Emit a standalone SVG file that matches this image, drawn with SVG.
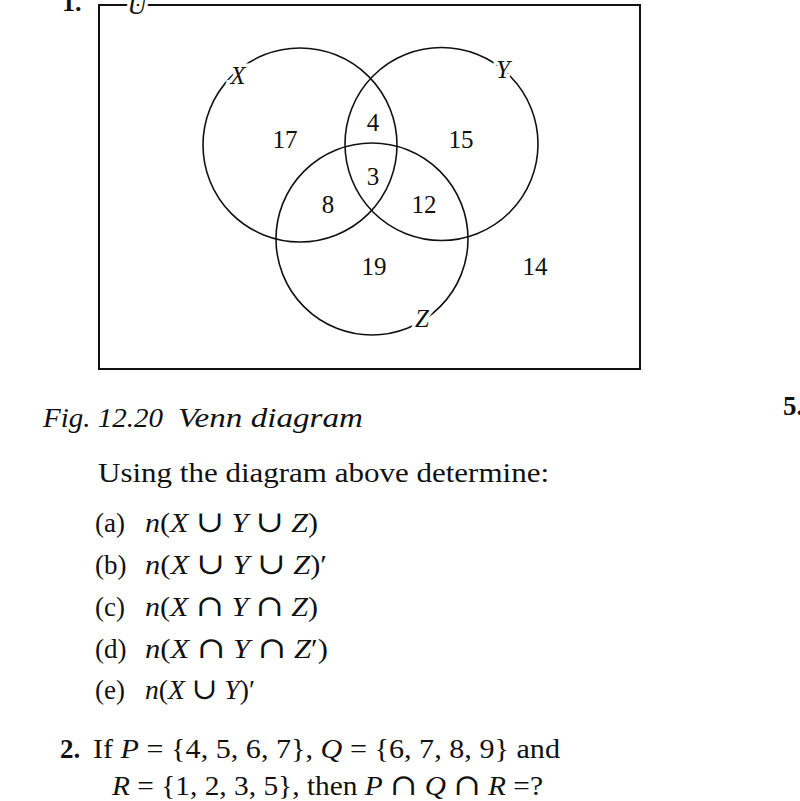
<svg xmlns="http://www.w3.org/2000/svg" width="800" height="801" viewBox="0 0 800 801">
<style>
text{font-family:"Liberation Serif","Times New Roman",serif;fill:#111}
.i{font-style:italic}
.b{font-weight:bold}
.s{font-family:"DejaVu Serif",serif;font-size:30px}
.num{font-size:25px;text-anchor:middle}
.lbl{font-size:25px;font-style:italic;text-anchor:middle;paint-order:stroke;stroke:#fff;stroke-width:7px}
.body{font-size:27px}
.c{fill:none;stroke:#111;stroke-width:1.6}
</style>
<rect width="800" height="801" fill="#fff"/>
<g id="universe">
<rect x="99" y="5" width="541" height="364" fill="none" stroke="#111" stroke-width="2"/>
<text x="137" y="14" class="lbl" style="font-size:26px">U</text>
</g>
<text x="62" y="11" class="b" style="font-size:26px">1.</text>
<g id="set-X"><circle cx="300" cy="145" r="97" class="c"/><text x="238" y="84" class="lbl">X</text></g>
<g id="set-Y"><circle cx="441.5" cy="144" r="96.5" class="c"/><text x="503" y="78" class="lbl">Y</text></g>
<g id="set-Z"><circle cx="372" cy="239" r="96" class="c"/><text x="422" y="327" class="lbl">Z</text></g>
<g id="regions">
<text x="285" y="148" class="num">17</text>
<text x="373" y="131" class="num">4</text>
<text x="461" y="148" class="num">15</text>
<text x="373" y="185" class="num">3</text>
<text x="328" y="213" class="num">8</text>
<text x="424" y="213" class="num">12</text>
<text x="374" y="275" class="num">19</text>
<text x="535" y="275" class="num">14</text>
</g>
<g id="connectors"/>
<text x="43" y="427" class="i body" textLength="120" lengthAdjust="spacingAndGlyphs">Fig. 12.20</text>
<text x="178" y="427" class="i body" textLength="185" lengthAdjust="spacingAndGlyphs">Venn diagram</text>
<text x="783" y="415" class="b body">5.</text>
<text x="98" y="482" class="body" textLength="451" lengthAdjust="spacingAndGlyphs">Using the diagram above determine:</text>
<text x="95" y="532" class="body">(a)</text>
<text x="145" y="532" class="body" textLength="173" lengthAdjust="spacingAndGlyphs"><tspan class="i">n</tspan>(<tspan class="i">X</tspan> <tspan class="s">∪</tspan> <tspan class="i">Y</tspan> <tspan class="s">∪</tspan> <tspan class="i">Z</tspan>)</text>
<text x="95" y="574" class="body">(b)</text>
<text x="145" y="574" class="body" textLength="182" lengthAdjust="spacingAndGlyphs"><tspan class="i">n</tspan>(<tspan class="i">X</tspan> <tspan class="s">∪</tspan> <tspan class="i">Y</tspan> <tspan class="s">∪</tspan> <tspan class="i">Z</tspan>)′</text>
<text x="95" y="616" class="body">(c)</text>
<text x="145" y="616" class="body" textLength="173" lengthAdjust="spacingAndGlyphs"><tspan class="i">n</tspan>(<tspan class="i">X</tspan> <tspan class="s">∩</tspan> <tspan class="i">Y</tspan> <tspan class="s">∩</tspan> <tspan class="i">Z</tspan>)</text>
<text x="95" y="658" class="body">(d)</text>
<text x="145" y="658" class="body" textLength="183" lengthAdjust="spacingAndGlyphs"><tspan class="i">n</tspan>(<tspan class="i">X</tspan> <tspan class="s">∩</tspan> <tspan class="i">Y</tspan> <tspan class="s">∩</tspan> <tspan class="i">Z</tspan>′)</text>
<text x="95" y="699" class="body">(e)</text>
<text x="145" y="699" class="body" textLength="110" lengthAdjust="spacingAndGlyphs"><tspan class="i">n</tspan>(<tspan class="i">X</tspan> <tspan class="s">∪</tspan> <tspan class="i">Y</tspan>)′</text>
<text x="60" y="758" class="b body">2.</text>
<text x="93" y="758" class="body" textLength="467" lengthAdjust="spacingAndGlyphs">If <tspan class="i">P</tspan> = {4, 5, 6, 7}, <tspan class="i">Q</tspan> = {6, 7, 8, 9} and</text>
<text x="112" y="795" class="body" textLength="431" lengthAdjust="spacingAndGlyphs"><tspan class="i">R</tspan> = {1, 2, 3, 5}, then <tspan class="i">P</tspan> <tspan class="s">∩</tspan> <tspan class="i">Q</tspan> <tspan class="s">∩</tspan> <tspan class="i">R</tspan> =?</text>
</svg>
